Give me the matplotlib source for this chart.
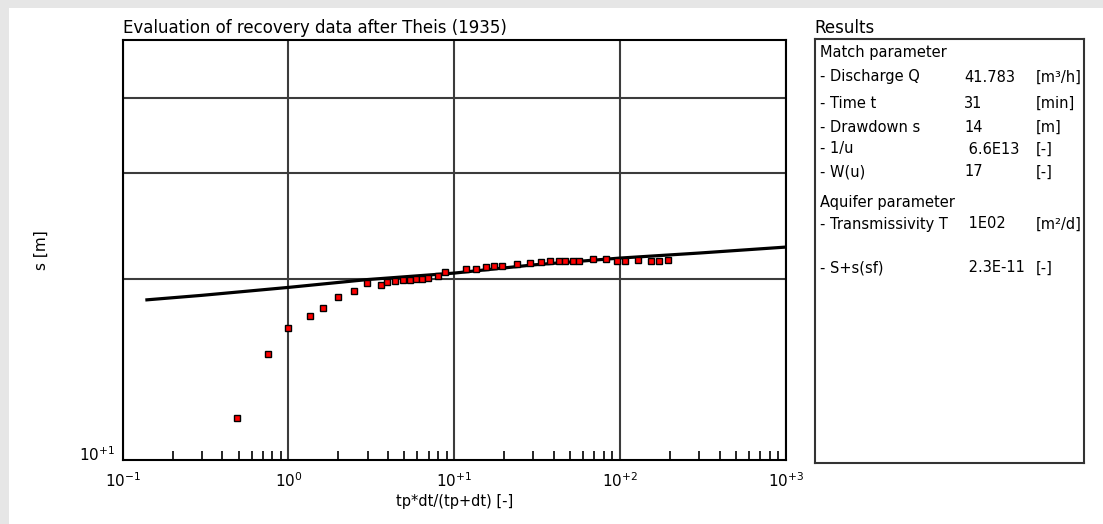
import matplotlib
matplotlib.use("Agg")
import matplotlib.pyplot as plt
from matplotlib.patches import Rectangle
from matplotlib.ticker import LogLocator, FixedLocator, NullFormatter

plt.rcParams['font.family'] = ['DejaVu Sans']
plt.rcParams['mathtext.default'] = 'regular'

# measured recovery data
obs_x = [0.49, 0.75, 1.0, 1.34, 1.62, 1.99, 2.47, 2.97, 3.62, 3.94, 4.40, 4.90,
         5.42, 5.89, 6.37, 6.93, 8.03, 8.81, 11.8, 13.6, 15.6, 17.5, 19.4, 23.9,
         28.7, 33.5, 37.9, 42.6, 46.7, 52.0, 56.7, 69.2, 82.2, 95.8, 107.5,
         129.3, 153.7, 173.1, 193.6]
obs_s = [11.73, 15.0, 16.6, 17.36, 17.88, 18.63, 19.06, 19.68, 19.55, 19.73,
         19.86, 19.88, 19.93, 19.98, 20.03, 20.06, 20.19, 20.52, 20.77, 20.77,
         20.9, 20.98, 21.03, 21.16, 21.25, 21.33, 21.38, 21.44, 21.44, 21.44,
         21.44, 21.58, 21.6, 21.44, 21.38, 21.52, 21.44, 21.44, 21.52]

# fitted Theis curve
theis_x = [0.14, 0.3, 1.0, 3.0, 10.0, 30.0, 100.0, 300.0, 1000.0]
theis_s = [18.46, 18.78, 19.36, 19.95, 20.45, 21.1, 21.66, 22.08, 22.59]

x_ticks = [0.1, 1, 10, 100, 1000]
x_ticklabels = ['$10^{-1}$', '$10^{0}$', '$10^{+1}$', '$10^{+2}$', '$10^{+3}$']
y_grid = [20, 30, 40]

results_rows = [
    ('Match parameter', '', ''),
    ('- Discharge Q', '41.783', '[m³/h]'),
    ('- Time t', '31', '[min]'),
    ('- Drawdown s', '14', '[m]'),
    ('- 1/u', ' 6.6E13', '[-]'),
    ('- W(u)', '17', '[-]'),
    ('Aquifer parameter', '', ''),
    ('- Transmissivity T', ' 1E02', '[m²/d]'),
    ('- S+s(sf)', ' 2.3E-11', '[-]'),
]
row_y = [53, 77, 103, 127, 149, 172, 203, 224, 268]

W, H = 1103, 524
fig = plt.figure(figsize=(W / 100, H / 100), dpi=100)
fig.patch.set_facecolor('#e6e6e6')


def fx(px):
    return px / W


def fy(py):
    return 1 - py / H


# white page with a grey shadow on top and left, like the screenshot
page = fig.add_axes([fx(9), 0, (W - 9) / W, 516 / H], zorder=0)
page.axis('off')
page.add_patch(Rectangle((0, 0), 1, 1, transform=page.transAxes,
                         facecolor='white', edgecolor='none'))

ax = fig.add_axes([fx(122.7), fy(460), (785.7 - 122.7) / W, (460 - 39.5) / H], zorder=2)
ax.set_xscale('log')
ax.set_yscale('log')
ax.set_xlim(0.1, 1000)
ax.set_ylim(10, 50)

ax.plot(theis_x, theis_s, color='black', lw=2.3, zorder=3)
ax.plot(obs_x, obs_s, 's', color='#ff0000', mec='black', mew=1.0, ms=4.8, zorder=4)

ax.xaxis.set_major_locator(FixedLocator(x_ticks))
ax.set_xticklabels(x_ticklabels, fontsize=11)
ax.xaxis.set_minor_locator(LogLocator(base=10, subs=range(2, 10)))
ax.xaxis.set_minor_formatter(NullFormatter())
ax.tick_params(axis='x', which='major', length=0, pad=8)
ax.tick_params(axis='x', which='minor', direction='in', length=6.5, width=1.2, color='black')
ax.grid(True, which='major', axis='x', color='#3c3c3c', lw=1.5)

ax.yaxis.set_major_locator(FixedLocator(y_grid))
ax.yaxis.set_minor_locator(FixedLocator([]))
ax.set_yticklabels([])
ax.tick_params(axis='y', which='both', length=0)
ax.grid(True, which='major', axis='y', color='#3c3c3c', lw=1.5)
for sp in ax.spines.values():
    sp.set_linewidth(1.5)
    sp.set_color('black')

ax.text(-0.012, 0.012, '$10^{+1}$', transform=ax.transAxes, ha='right', va='center', fontsize=11)
ax.set_xlabel('tp*dt/(tp+dt) [-]', fontsize=10.5, labelpad=3)
fig.text(fx(41), fy(250), 's [m]', rotation=90, ha='center', va='center', fontsize=11)
fig.text(fx(123), fy(37), 'Evaluation of recovery data after Theis (1935)',
         ha='left', va='bottom', fontsize=12)

# results panel
fig.text(fx(814), fy(37), 'Results', ha='left', va='bottom', fontsize=12)
box = fig.add_axes([fx(815), fy(463), (1084 - 815) / W, (463 - 39) / H], zorder=2)
box.set_xticks([])
box.set_yticks([])
for sp in box.spines.values():
    sp.set_linewidth(1.5)
    sp.set_color('#333333')
for (label, value, unit), y in zip(results_rows, row_y):
    fig.text(fx(820), fy(y), label, ha='left', va='center', fontsize=10.5, zorder=5)
    if value:
        fig.text(fx(964), fy(y), value, ha='left', va='center', fontsize=10.5, zorder=5)
    if unit:
        fig.text(fx(1036), fy(y), unit, ha='left', va='center', fontsize=10.5, zorder=5)

fig.savefig('out.png', dpi=100, facecolor=fig.get_facecolor())
